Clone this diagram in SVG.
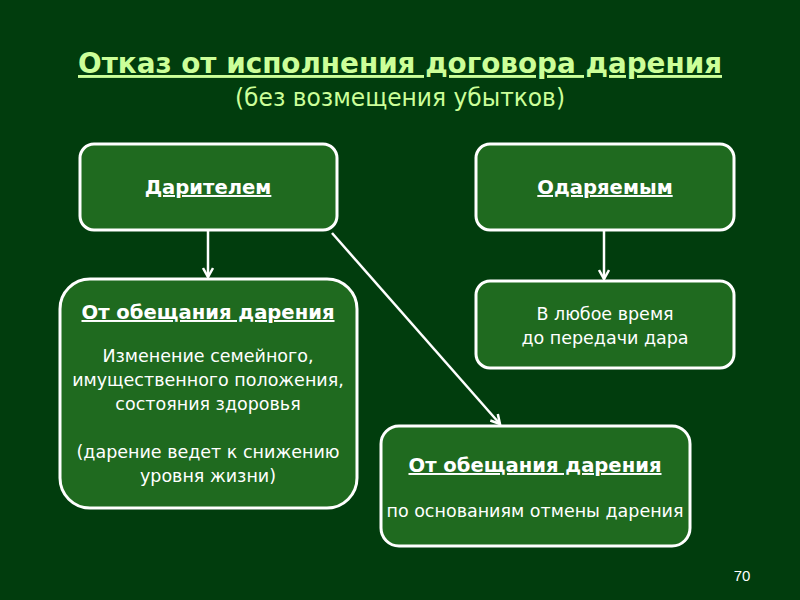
<svg xmlns="http://www.w3.org/2000/svg" width="800" height="600" viewBox="0 0 800 600">
<defs>
<style>
.bg{fill:#013d0d}
.box{fill:#1f6a1f;stroke:#ffffff;stroke-width:3}
.t{font-family:"DejaVu Sans",sans-serif;fill:#ffffff;text-anchor:middle;font-size:17.5px}
.b{font-weight:bold;text-decoration:underline;font-size:19.6px}
.title{font-family:"DejaVu Sans Condensed","DejaVu Sans",sans-serif;fill:#ccff99;text-anchor:middle}
.conn{stroke:#ffffff;stroke-width:2.5;fill:none;marker-end:url(#arr)}
</style>
<marker id="arr" viewBox="0 0 12 12" refX="10" refY="6" markerWidth="12" markerHeight="12" markerUnits="userSpaceOnUse" orient="auto">
<path d="M1,1 L10,6 L1,11" fill="none" stroke="#ffffff" stroke-width="2.5"/>
</marker>
</defs>
<rect class="bg" x="0" y="0" width="800" height="600"/>
<g id="title">
<text class="title" x="400" y="73" font-size="29" font-weight="bold" text-decoration="underline" textLength="644" lengthAdjust="spacingAndGlyphs">Отказ от исполнения договора дарения</text>
<text class="title" x="400" y="106" font-size="25" textLength="330" lengthAdjust="spacingAndGlyphs">(без возмещения убытков)</text>
</g>
<g id="connectors">
<line class="conn" x1="208" y1="231" x2="208" y2="277"/>
<line class="conn" x1="604" y1="231" x2="604" y2="279"/>
<line class="conn" x1="332" y1="233" x2="500" y2="424"/>
</g>
<g id="darit">
<rect class="box" x="80" y="144" width="257" height="86" rx="14"/>
<text class="t b" x="208" y="194">Дарителем</text>
</g>
<g id="odar">
<rect class="box" x="476" y="144" width="258" height="86" rx="14"/>
<text class="t b" x="605" y="194">Одаряемым</text>
</g>
<g id="left">
<rect class="box" x="60" y="279" width="297" height="229" rx="30"/>
<text class="t b" x="208" y="319">От обещания дарения</text>
<text class="t" x="208" y="362">Изменение семейного,</text>
<text class="t" x="208" y="386">имущественного положения,</text>
<text class="t" x="208" y="410">состояния здоровья</text>
<text class="t" x="208" y="458">(дарение ведет к снижению</text>
<text class="t" x="208" y="482">уровня жизни)</text>
</g>
<g id="anytime">
<rect class="box" x="476" y="281" width="258" height="87" rx="14"/>
<text class="t" x="605" y="320">В любое время</text>
<text class="t" x="605" y="344">до передачи дара</text>
</g>
<g id="bottom">
<rect class="box" x="381" y="426" width="309" height="120" rx="18"/>
<text class="t b" x="535" y="472">От обещания дарения</text>
<text class="t" x="535" y="517">по основаниям отмены дарения</text>
</g>
<text x="742" y="581" font-family="Liberation Sans, sans-serif" font-size="15" fill="#ffffff" text-anchor="middle">70</text>
</svg>
